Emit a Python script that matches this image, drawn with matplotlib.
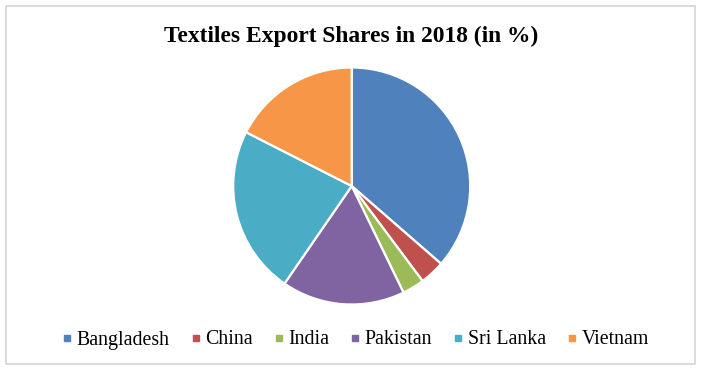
import matplotlib.pyplot as plt
from matplotlib.lines import Line2D
from matplotlib.patches import Rectangle

countries = ["Bangladesh", "China", "India", "Pakistan", "Sri Lanka", "Vietnam"]
shares = [36.4, 3.4, 3.0, 16.8, 22.9, 17.5]
colors = ["#4F81BD", "#C0504D", "#9BBB59", "#8064A2", "#4BACC6", "#F79646"]
title = "Textiles Export Shares in 2018 (in %)"

W, H = 706, 369
fig = plt.figure(figsize=(W / 100, H / 100), dpi=100)
plt.rcParams['font.family'] = ['Liberation Serif', 'DejaVu Serif']

# chart frame
fig.patches.append(Rectangle((6 / W, 5 / H), 689 / W, 358 / H, transform=fig.transFigure,
                             fill=False, edgecolor="#D4D4D4", lw=1.2))

cx, cy, r = 351.7, 186, 118.5
ax = fig.add_axes([(cx - r) / W, (H - cy - r) / H, 2 * r / W, 2 * r / H])
ax.pie(shares, colors=colors, startangle=90, counterclock=False, radius=1,
       wedgeprops=dict(edgecolor="white", linewidth=1.6))
ax.set_xlim(-1, 1)
ax.set_ylim(-1, 1)
ax.set_aspect("equal")
ax.axis("off")

fig.text(351 / W, (H - 36) / H, title, ha="center", va="center",
         fontsize=16.9, fontweight="bold")

handles = [Line2D([], [], marker="s", linestyle="none", markersize=4.8,
                  markerfacecolor=c, markeredgecolor=c) for c in colors]
fig.legend(handles, countries, loc="center", bbox_to_anchor=(355.5 / W, (H - 340) / H),
           ncol=6, frameon=False, fontsize=14.3, handlelength=0.5,
           handletextpad=0.22, columnspacing=1.07, borderpad=0)

fig.savefig("out.png", dpi=100)
